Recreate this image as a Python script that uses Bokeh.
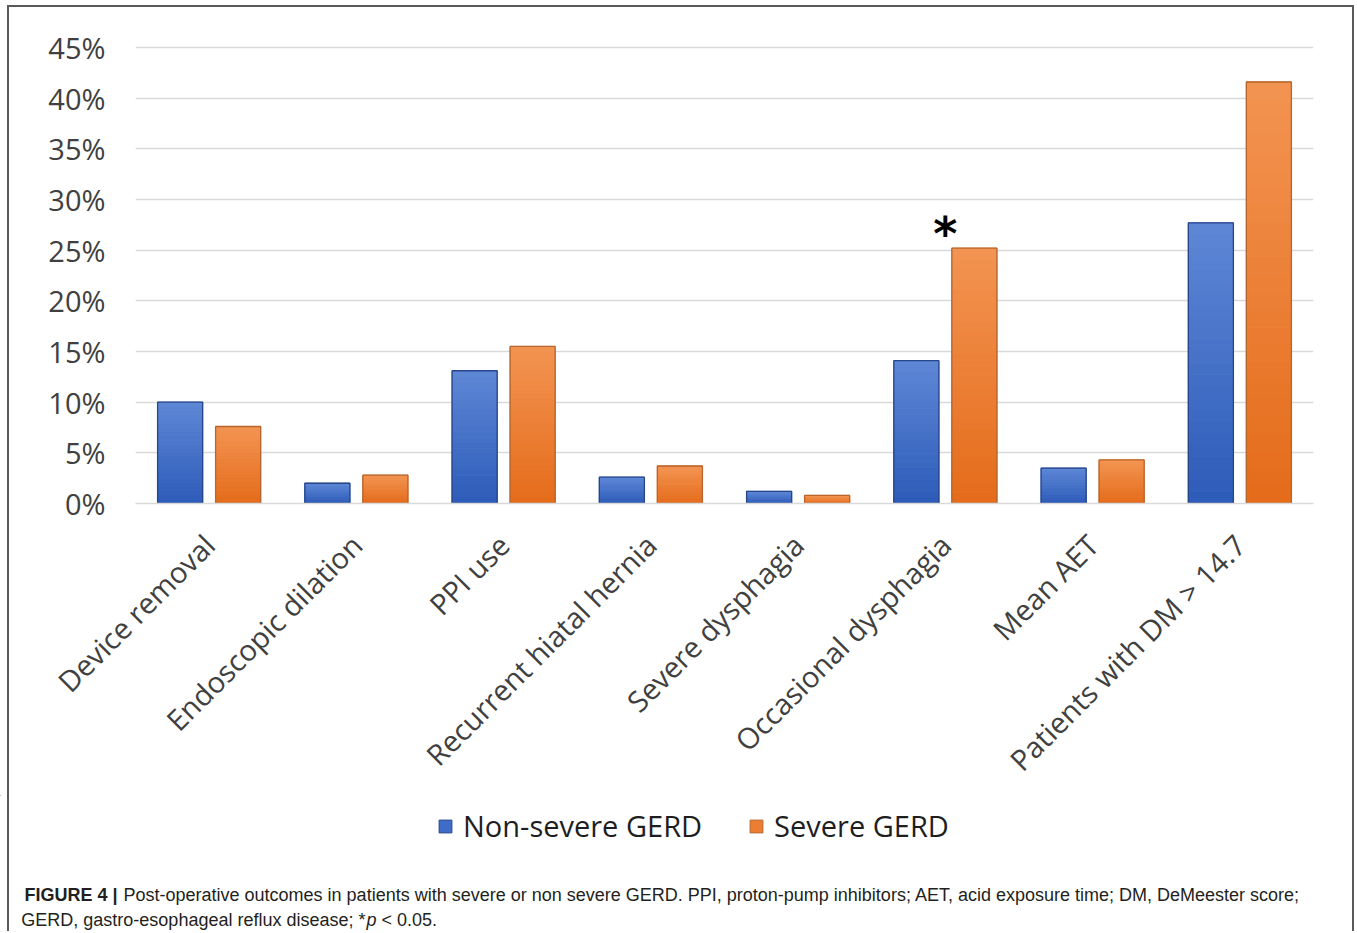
import math
from bokeh.plotting import figure
from bokeh.layouts import column
from bokeh.models import (FactorRange, Range1d, Legend, LegendItem,
                          PrintfTickFormatter, FixedTicker, ColumnDataSource)
from bokeh.transform import dodge
from bokeh.core.properties import value
from bokeh.embed import file_html
from bokeh.resources import INLINE

# ---- data ----
categories = ["Device removal", "Endoscopic dilation", "PPI use",
              "Recurrent hiatal hernia", "Severe dysphagia",
              "Occasional dysphagia", "Mean AET", "Patients with DM > 14.7"]
non_severe = [10.0, 2.0, 13.1, 2.6, 1.2, 14.1, 3.5, 27.7]
severe = [7.6, 2.8, 15.5, 3.7, 0.8, 25.2, 4.3, 41.6]
series_names = ["Non-severe GERD", "Severe GERD"]
y_ticks = [0, 5, 10, 15, 20, 25, 30, 35, 40, 45]
significant = ["Occasional dysphagia"]
caption_bold = "FIGURE 4 |"
caption_line1 = ("Post-operative outcomes in patients with severe or non severe GERD. "
                 "PPI, proton-pump inhibitors; AET, acid exposure time; DM, DeMeester score;")
caption_line2a = "GERD, gastro-esophageal reflux disease; *"
caption_line2b = "p"
caption_line2c = "< 0.05."

# ---- styles ----
BLUE_BOT, BLUE_TOP, BLUE_EDGE, BLUE_KEY = "#2D5BB8", "#5E87D6", "#27468A", "#3F6CC6"
OR_BOT, OR_TOP, OR_EDGE, OR_KEY = "#E46B1A", "#F39452", "#B5652D", "#ED7D31"
TXT = "#404040"
FONT = "Open Sans"
W = 1355
H1, H2 = 795, 136
DODGE, BAR_W = 0.197, 0.306


def _mix(c1, c2, t):
    a = [int(c1[i:i + 2], 16) for i in (1, 3, 5)]
    b = [int(c2[i:i + 2], 16) for i in (1, 3, 5)]
    return "#%02x%02x%02x" % tuple(round(a[j] + (b[j] - a[j]) * t) for j in range(3))


def gradient_source(values, c_bot, c_top, n=24):
    xs, bots, tops, cols = [], [], [], []
    for cat, v in zip(categories, values):
        for k in range(n):
            xs.append(cat)
            bots.append(v * k / n)
            tops.append(v * (k + 1) / n)
            cols.append(_mix(c_bot, c_top, (k + 0.5) / n))
    return ColumnDataSource(dict(cat=xs, bottom=bots, top=tops, color=cols))


src = ColumnDataSource(dict(cat=categories, ns=non_severe, sv=severe))
sig_vals = [severe[categories.index(c)] for c in significant]
star_src = ColumnDataSource(dict(cat=significant, y=sig_vals, t=["*"] * len(significant)))

# ---- main chart ----
p = figure(x_range=FactorRange(*categories, range_padding=0),
           y_range=Range1d(0, 45.3),
           width=W, height=H1,
           output_backend="svg", toolbar_location=None,
           min_border_left=135, min_border_right=W - 1313,
           min_border_top=44, min_border_bottom=H1 - 504)
p.frame_align = False
p.outline_line_color = None
p.background_fill_color = None
p.border_fill_color = None

for vals, off, cb, ct, edge, col in [(non_severe, -DODGE, BLUE_BOT, BLUE_TOP, BLUE_EDGE, "ns"),
                                     (severe, DODGE, OR_BOT, OR_TOP, OR_EDGE, "sv")]:
    gsrc = gradient_source(vals, cb, ct)
    p.vbar(x=dodge("cat", off, range=p.x_range), bottom="bottom", top="top",
           width=BAR_W, source=gsrc, fill_color="color", line_color="color",
           line_width=1)
    p.vbar(x=dodge("cat", off, range=p.x_range), top=col, width=BAR_W,
           source=src, fill_color=None, line_color=edge, line_width=1.3)

p.text(x="cat", y="y", text="t", source=star_src,
       text_font=value("DejaVu Sans"), text_font_style="bold",
       text_font_size="46px", text_color="black",
       text_align="center", text_baseline="alphabetic", y_offset=-14)

p.xgrid.grid_line_color = None
p.ygrid.grid_line_color = "#d9d9d9"
p.ygrid.grid_line_width = 1.5
p.ygrid.ticker = FixedTicker(ticks=y_ticks)

p.yaxis.ticker = FixedTicker(ticks=y_ticks)
p.yaxis.formatter = PrintfTickFormatter(format="%d%%")
p.yaxis.axis_line_color = None
p.yaxis.major_tick_line_color = None
p.yaxis.minor_tick_line_color = None
p.yaxis.major_tick_out = 0
p.yaxis.major_tick_in = 0
p.yaxis.major_label_text_font = FONT
p.yaxis.major_label_text_font_size = "29px"
p.yaxis.major_label_text_color = TXT
p.yaxis.major_label_standoff = 30

p.xaxis.axis_line_color = "#d9d9d9"
p.xaxis.axis_line_width = 1.5
p.xaxis.major_tick_line_color = None
p.xaxis.minor_tick_line_color = None
p.xaxis.major_tick_out = 0
p.xaxis.major_tick_in = 0
p.xaxis.major_label_orientation = math.pi / 4
p.xaxis.major_label_text_font = FONT
p.xaxis.major_label_text_font_size = "29px"
p.xaxis.major_label_text_color = TXT
p.xaxis.major_label_standoff = 36

# ---- legend + caption strip ----
p2 = figure(x_range=Range1d(0, W), y_range=Range1d(H2, 0),
            width=W, height=H2, output_backend="svg", toolbar_location=None,
            min_border=0)
p2.frame_align = False
p2.axis.visible = False
p2.grid.visible = False
p2.outline_line_color = None
p2.background_fill_color = None
p2.border_fill_color = None

# legend keys (zero-size, far outside the visible strip)
k1 = p2.vbar(x=[-5000], bottom=[-5000], top=[-5000], width=0,
             fill_color=BLUE_KEY, line_color=BLUE_EDGE)
k2 = p2.vbar(x=[-5000], bottom=[-5000], top=[-5000], width=0,
             fill_color=OR_KEY, line_color=OR_EDGE)
legend = Legend(items=[LegendItem(label=series_names[0], renderers=[k1]),
                       LegendItem(label=series_names[1], renderers=[k2])],
                orientation="horizontal", location=(437, H2 - 50),
                label_text_font=FONT, label_text_font_size="29px",
                label_text_color="#1e1e1e", glyph_width=16, glyph_height=16,
                spacing=46, padding=0, margin=0, border_line_color=None,
                background_fill_alpha=0, label_standoff=10)
p2.add_layout(legend)

cap = dict(text_font=value("Liberation Sans"), text_font_size="18px",
           text_color="#231f20", text_baseline="alphabetic")
y1, y2 = 894 - H1, 919 - H1
p2.text(x=[117], y=[y1], text=[caption_bold], text_font_style="bold",
        text_align="right", **cap)
p2.text(x=[123], y=[y1], text=[caption_line1], text_align="left", **cap)
p2.text(x=[365], y=[y2], text=[caption_line2a], text_align="right", **cap)
p2.text(x=[366], y=[y2], text=[caption_line2b], text_font_style="italic",
        text_align="left", **cap)
p2.text(x=[381], y=[y2], text=[caption_line2c], text_align="left", **cap)

line = "linear-gradient(#5a5a5a,#5a5a5a)"
layout = column(p, p2, spacing=0, styles={
    "background": (f"{line} 7px 5px / 2px 100% no-repeat, "
                   f"{line} 7px 5px / 1347px 2px no-repeat, "
                   f"{line} 1352px 5px / 2px 100% no-repeat, white")})

open("out.html", "w").write(file_html(layout, INLINE))
